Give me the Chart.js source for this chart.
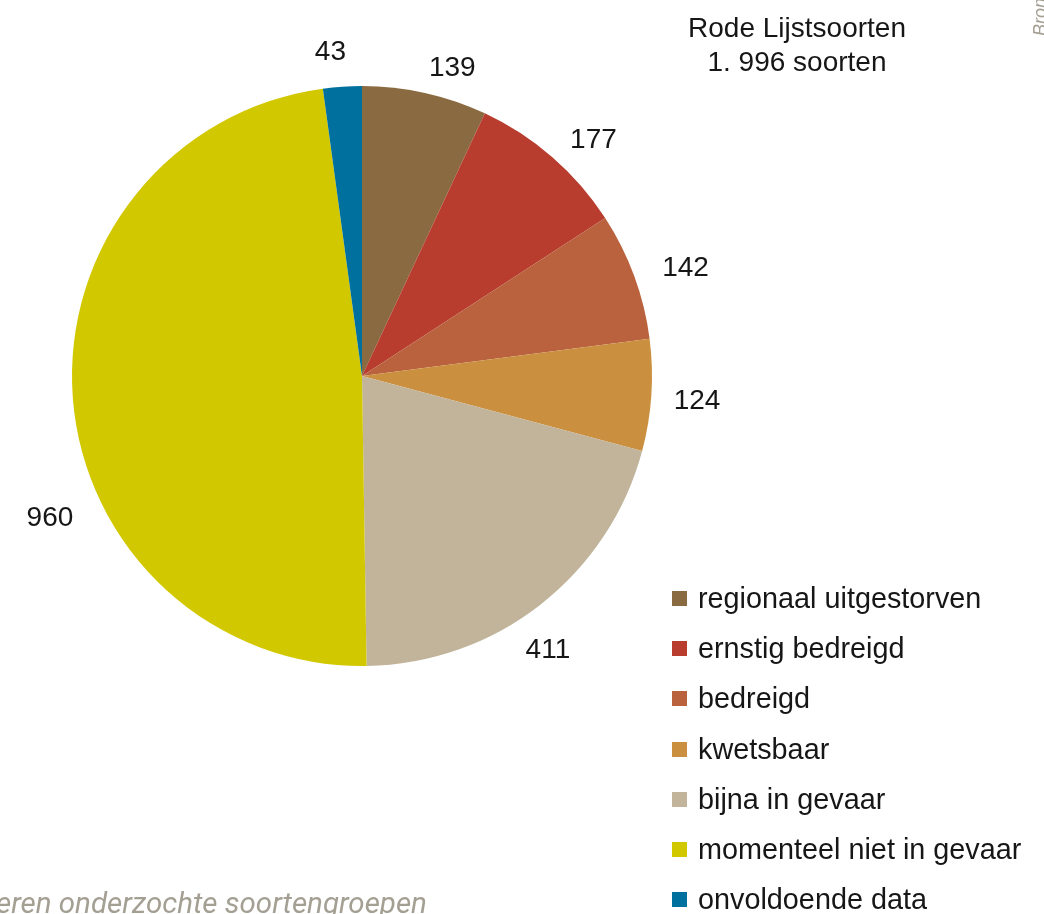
<!DOCTYPE html>
<html>
<head>
<meta charset="utf-8">
<script src="https://cdn.jsdelivr.net/npm/chart.js@4"></script>
<style>
  html, body { margin:0; padding:0; background:#fff; overflow:hidden; }
  #wrap { position:relative; width:1044px; height:914px; font-family:"Liberation Sans", Arial, sans-serif; color:#161616; }
  #c { position:absolute; left:0; top:0; }
  .title { position:absolute; left:647px; width:300px; text-align:center; font-size:28px; line-height:34px; top:11px; }
  .legend { position:absolute; left:672px; top:573px; font-size:28.8px; }
  .legend .row { height:50.3px; display:flex; align-items:center; }
  .legend .sw { width:15px; height:15px; margin-right:11px; }
  .foot { position:absolute; left:-4px; top:889px; font-size:29.5px; line-height:29px; font-style:italic; color:#a49f93; white-space:nowrap; font-family:Roboto, sans-serif; }
  .side { position:absolute; left:1030px; top:0; font-size:18px; font-style:italic; color:#a49f93; transform-origin:left top; transform:rotate(-90deg) translate(-36px, 0); white-space:nowrap; }
</style>
</head>
<body>
<div id="wrap">
  <canvas id="c" width="1044" height="914"></canvas>
  <div class="title">Rode Lijstsoorten<br>1. 996 soorten</div>
  <div class="legend" id="legend"></div>
  <div class="foot">eren onderzochte soortengroepen</div>
  <div class="side">Bron</div>
</div>
<script>
// ── Data ──
const labels = ['regionaal uitgestorven','ernstig bedreigd','bedreigd','kwetsbaar','bijna in gevaar','momenteel niet in gevaar','onvoldoende data'];
const values = [139, 177, 142, 124, 411, 960, 43];
const colors = ['#8a6a40','#b83d2f','#b9623d','#cb903f','#c1b49b','#d2c800','#00719e'];

// label layout: angular nudge (deg) from slice middle, and distance from centre (px)
const LABEL_NUDGE = [3.8, 3.5, 1.8, 0.5, 3.8, -20.2, -1.7];
const LABEL_DIST  = [321, 330, 341, 336, 331, 343, 325];

// ── Legend (html) ──
document.getElementById('legend').innerHTML = labels.map((l, i) =>
  `<div class="row"><span class="sw" style="background:${colors[i]}"></span><span>${l}</span></div>`
).join('');

// ── Outside value labels ──
const outsideLabels = {
  id:'outsideLabels',
  afterDatasetsDraw(chart) {
    const ctx = chart.ctx;
    const meta = chart.getDatasetMeta(0);
    ctx.save();
    ctx.font = '28px "Liberation Sans", Arial, sans-serif';
    ctx.fillStyle = '#161616';
    ctx.textAlign = 'center';
    ctx.textBaseline = 'middle';
    meta.data.forEach((arc, i) => {
      const p = arc.getProps(['x','y','startAngle','endAngle'], true);
      const a = (p.startAngle + p.endAngle) / 2 + LABEL_NUDGE[i] * Math.PI / 180;
      ctx.fillText(String(values[i]), p.x + Math.cos(a) * LABEL_DIST[i], p.y + Math.sin(a) * LABEL_DIST[i]);
    });
    ctx.restore();
  }
};

new Chart(document.getElementById('c'), {
  type:'pie',
  data:{ labels, datasets:[{ data:values, backgroundColor:colors, borderWidth:0 }] },
  options:{
    responsive:false,
    animation:false,
    layout:{ padding:{ left:72, top:86, right:392, bottom:248 } },
    plugins:{ legend:{ display:false }, tooltip:{ enabled:false } }
  },
  plugins:[outsideLabels]
});
</script>
</body>
</html>
